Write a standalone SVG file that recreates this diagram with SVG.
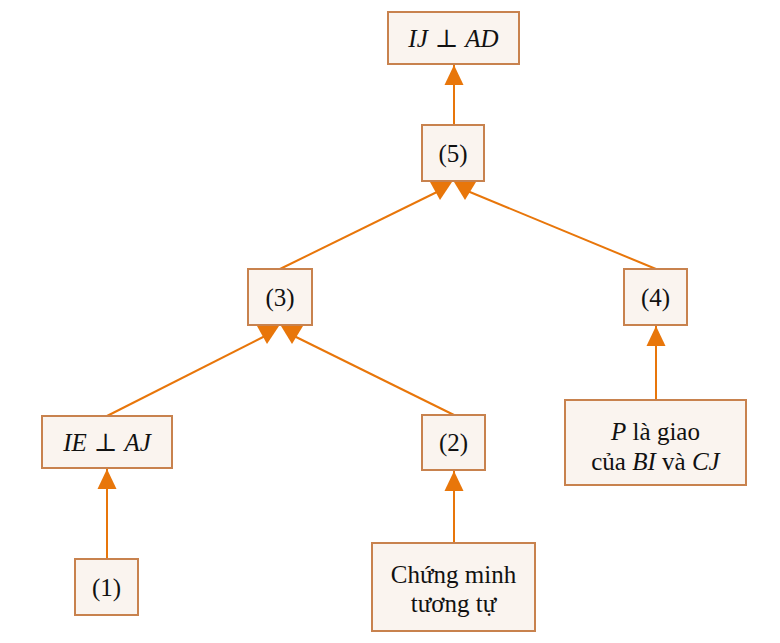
<svg xmlns="http://www.w3.org/2000/svg" width="780" height="643" viewBox="0 0 780 643">
<defs>
<marker id="tip" markerUnits="userSpaceOnUse" markerWidth="20" markerHeight="20" viewBox="0 0 20 20" refX="20" refY="10" orient="auto">
<path d="M0,0.5 L20,10 L0,19.5 z" fill="#E8760A"/>
</marker>
<style>
.n rect{fill:#FAF4EF;stroke:#C8824E;stroke-width:2}
.n text{font-family:"Liberation Serif","DejaVu Serif",serif;font-size:25px;fill:#111;text-anchor:middle;dominant-baseline:central}
.m{font-style:italic}
.c line{stroke:#E8760A;stroke-width:2}
.c line.v{marker-end:url(#tip)}
.c polygon{fill:#E8760A}
</style>
</defs>
<g class="c" id="connectors">
<line class="v" x1="454" y1="124" x2="454" y2="65"/>
<line x1="280" y1="269" x2="441" y2="190"/>
<polygon points="430,182 452,182 440,200"/>
<line x1="656" y1="269" x2="465" y2="190"/>
<polygon points="454,182 476,182 465,200"/>
<line x1="107" y1="416" x2="267" y2="335"/>
<polygon points="257,326 279,326 267,344"/>
<line x1="454" y1="415" x2="292" y2="335"/>
<polygon points="281,326 303,326 292,344"/>
<line class="v" x1="107" y1="559" x2="107" y2="469"/>
<line class="v" x1="454" y1="543" x2="454" y2="471"/>
<line class="v" x1="656" y1="400" x2="656" y2="326"/>
</g>
<g class="n" id="n_ij">
<rect x="388" y="12" width="131" height="52"/>
<text x="453.5" y="38"><tspan class="m">IJ</tspan><tspan dx="7">⊥</tspan><tspan class="m" dx="7">AD</tspan></text>
</g>
<g class="n" id="n5">
<rect x="422" y="125" width="62" height="56"/>
<text x="453" y="153">(5)</text>
</g>
<g class="n" id="n3">
<rect x="248" y="269" width="64" height="56"/>
<text x="280" y="297">(3)</text>
</g>
<g class="n" id="n4">
<rect x="624" y="269" width="63" height="56"/>
<text x="655.5" y="297">(4)</text>
</g>
<g class="n" id="n_ie">
<rect x="42" y="416" width="130" height="52"/>
<text x="107" y="442"><tspan class="m">IE</tspan><tspan dx="7">⊥</tspan><tspan class="m" dx="7">AJ</tspan></text>
</g>
<g class="n" id="n2">
<rect x="422" y="415" width="63" height="55"/>
<text x="453.5" y="442">(2)</text>
</g>
<g class="n" id="n_p">
<rect x="565" y="400" width="181" height="85"/>
<text x="655.5" y="431"><tspan class="m">P</tspan> là giao</text>
<text x="655.5" y="461">của <tspan class="m">BI</tspan> và <tspan class="m">CJ</tspan></text>
</g>
<g class="n" id="n1">
<rect x="75" y="559" width="63" height="56"/>
<text x="106.5" y="587">(1)</text>
</g>
<g class="n" id="n_cm">
<rect x="372" y="543" width="163" height="88"/>
<text x="453.5" y="574">Chứng minh</text>
<text x="453.5" y="603">tương tự</text>
</g>
</svg>
